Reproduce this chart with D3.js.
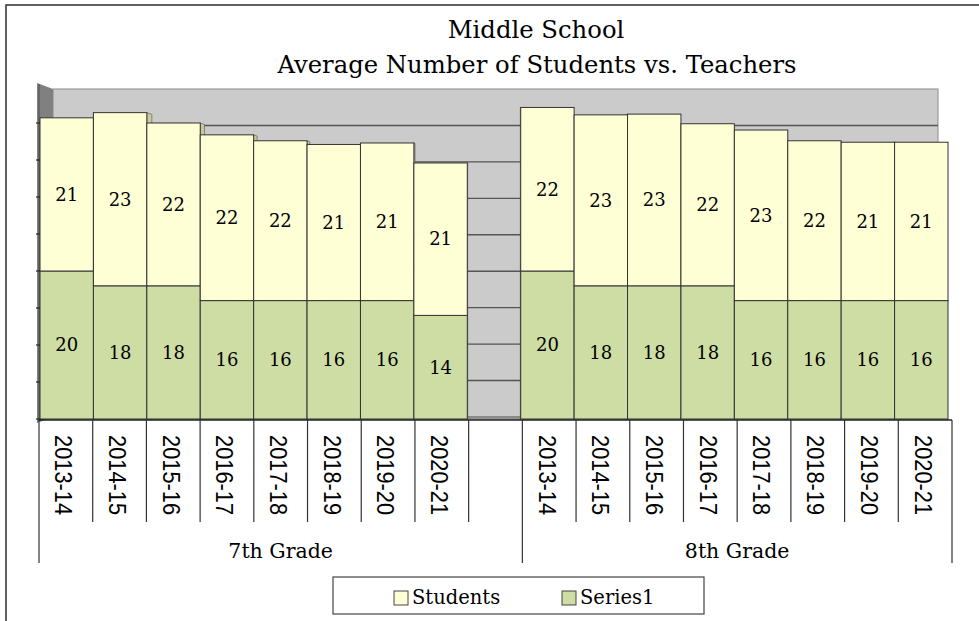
<!DOCTYPE html>
<html>
<head>
<meta charset="utf-8">
<script src="https://cdn.jsdelivr.net/npm/d3@7"></script>
<style>
    html, body { margin: 0; padding: 0; background: #fff; }
    svg { display: block; }
    .title { font-family: "DejaVu Serif", serif; font-size: 24.3px; fill: #000; }
    .val { font-family: "DejaVu Serif", serif; font-size: 18px; fill: #000; }
    .year { font-family: "Liberation Sans", Arial, sans-serif; font-size: 24px; fill: #000; }
    .grade { font-family: "DejaVu Serif", serif; font-size: 20.5px; fill: #000; }
    .legend-text { font-family: "DejaVu Serif", serif; font-size: 19.5px; fill: #000; }
</style>
</head>
<body>
<svg id="chart" width="979" height="621"></svg>
<script>
(function () {
    "use strict";

    // ---- data ----
    const grades = ["7th Grade", "8th Grade"];
    const years = ["2013-14", "2014-15", "2015-16", "2016-17", "2017-18", "2018-19", "2019-20", "2020-21"];
    const students7 = [20.7, 23.4, 22.0, 22.4, 21.6, 21.1, 21.3, 20.6];
    const series1_7 = [20, 18, 18, 16, 16, 16, 16, 14];
    const students8 = [22.1, 23.1, 23.2, 21.9, 23.05, 21.6, 21.4, 21.4];
    const series1_8 = [20, 18, 18, 18, 16, 16, 16, 16];
    const yTicks = [0, 5, 10, 15, 20, 25, 30, 35, 40];
    const yMax = 45;
    const seriesNames = ["Students", "Series1"];

    const COLORS = { Students: "#ffffd6", Series1: "#cddda4" };
    const SIDE = { Students: "#c9c99a", Series1: "#a7b67f" };

    // one slot per year, plus an empty slot between the two grades
    const GAP = "gap";
    const keys = [];
    const rows = [];
    grades.forEach(function (g, gi) {
        const stu = gi === 0 ? students7 : students8;
        const s1 = gi === 0 ? series1_7 : series1_8;
        years.forEach(function (yr, i) {
            const k = g + "|" + yr;
            keys.push(k);
            rows.push({ key: k, grade: g, gi: gi, year: yr, Series1: s1[i], Students: stu[i] });
        });
        if (gi === 0) keys.push(GAP);
    });

    const svg = d3.select("#chart");

    // outer chart frame (right & bottom run off the page)
    svg.append("rect")
        .attr("x", 6).attr("y", 5)
        .attr("width", 1100).attr("height", 800)
        .attr("fill", "#fff")
        .attr("stroke", "#3a3a3a").attr("stroke-width", 1.6);

    // title
    svg.append("text").attr("class", "title")
        .attr("x", 536).attr("y", 38).attr("text-anchor", "middle")
        .text("Middle School");
    svg.append("text").attr("class", "title")
        .attr("x", 537).attr("y", 73).attr("text-anchor", "middle")
        .text("Average Number of Students vs. Teachers");

    // scales: front plane for bars, back plane for the wall
    const x = d3.scaleBand().domain(keys).range([40, 948]).padding(0);
    const xAxis = d3.scaleBand().domain(keys).range([39, 952]).padding(0);
    const y = d3.scaleLinear().domain([0, yMax]).range([419, 86]);
    const yBack = d3.scaleLinear().domain([0, yMax]).range([417, 89]);
    const backX0 = 53, backX1 = 938;
    const centerX = 494;

    // back wall
    svg.append("rect")
        .attr("x", backX0).attr("y", yBack(yMax))
        .attr("width", backX1 - backX0).attr("height", yBack(0) - yBack(yMax))
        .attr("fill", "#cbcbcb")
        .attr("stroke", "#8c8c8c").attr("stroke-width", 1);

    // wall gridlines
    svg.selectAll(".grid")
        .data(yTicks.filter((d) => d > 0))
        .enter()
        .append("line")
        .attr("x1", backX0).attr("x2", backX1)
        .attr("y1", (d) => yBack(d)).attr("y2", (d) => yBack(d))
        .attr("stroke", "#555").attr("stroke-width", 1.4);

    // floor
    svg.append("path")
        .attr("d", `M40,${y(0)} L${backX0},${yBack(0)} L${backX1},${yBack(0)} L948,${y(0)} Z`)
        .attr("fill", "#b5b5b5").attr("stroke", "#555").attr("stroke-width", 0.8);

    // left side wall
    svg.append("path")
        .attr("d", `M37,83 L${backX0},${yBack(yMax)} L${backX0},${yBack(0)} L37,423 Z`)
        .attr("fill", "#808080");
    svg.append("line")
        .attr("x1", 39).attr("x2", 39).attr("y1", 84).attr("y2", 421)
        .attr("stroke", "#666").attr("stroke-width", 2);

    // value-axis ticks (labels hidden as in the original)
    svg.selectAll(".ytick")
        .data(yTicks)
        .enter()
        .append("line")
        .attr("x1", 36).attr("x2", 42)
        .attr("y1", (d) => y(d)).attr("y2", (d) => y(d))
        .attr("stroke", "#222").attr("stroke-width", 1.2);

    // stacked segments
    const stack = d3.stack().keys(["Series1", "Students"]);
    const layers = stack(rows);

    // side faces, receding toward the middle of the plot
    function sidePath(d) {
        const x0 = x(d.data.key);
        const x1 = x0 + x.bandwidth();
        const yt = y(d[1]), yb = y(d[0]);
        const xe = d.data.gi === 0 ? x1 : x0;
        const dep = 0.0145 * (centerX - xe);
        const dy = Math.abs(dep) * 0.35;
        return `M${xe},${yt} L${xe + dep},${yt + dy} L${xe + dep},${yb} L${xe},${yb} Z`;
    }
    layers.forEach(function (layer) {
        const name = layer.key;
        svg.selectAll(".side-" + name)
            .data(layer)
            .enter()
            .append("path")
            .attr("d", sidePath)
            .attr("fill", SIDE[name])
            .attr("stroke", "#555").attr("stroke-width", 0.6);
    });

    // front faces
    layers.forEach(function (layer) {
        const name = layer.key;
        svg.selectAll(".bar-" + name)
            .data(layer)
            .enter()
            .append("rect")
            .attr("x", (d) => x(d.data.key))
            .attr("y", (d) => y(d[1]))
            .attr("width", x.bandwidth())
            .attr("height", (d) => y(d[0]) - y(d[1]))
            .attr("fill", COLORS[name])
            .attr("stroke", "#333").attr("stroke-width", 1);
    });

    // data labels
    layers.forEach(function (layer) {
        svg.selectAll(".lbl-" + layer.key)
            .data(layer)
            .enter()
            .append("text")
            .attr("class", "val")
            .attr("x", (d) => x(d.data.key) + x.bandwidth() / 2)
            .attr("y", (d) => (y(d[0]) + y(d[1])) / 2)
            .attr("dy", "0.35em")
            .attr("text-anchor", "middle")
            .text((d) => Math.round(d[1] - d[0]));
    });

    // category axis: line, year tier, grade tier
    const axisY = 420;
    svg.append("line")
        .attr("x1", 39).attr("x2", 952)
        .attr("y1", axisY).attr("y2", axisY)
        .attr("stroke", "#222").attr("stroke-width", 1.4);

    // year tier separators
    const yearBounds = [];
    rows.forEach(function (r) {
        const idx = years.indexOf(r.year);
        if (idx > 0) yearBounds.push(xAxis(r.key));
        if (idx === years.length - 1 && r.gi === 0) yearBounds.push(xAxis(r.key) + xAxis.bandwidth());
    });
    svg.selectAll(".ysep")
        .data(yearBounds)
        .enter()
        .append("line")
        .attr("x1", (d) => d).attr("x2", (d) => d)
        .attr("y1", axisY).attr("y2", 522)
        .attr("stroke", "#333").attr("stroke-width", 1.2);

    // grade tier separators
    const gradeBounds = [xAxis(rows[0].key), xAxis(grades[1] + "|" + years[0]), 952];
    svg.selectAll(".gsep")
        .data(gradeBounds)
        .enter()
        .append("line")
        .attr("x1", (d) => d).attr("x2", (d) => d)
        .attr("y1", axisY).attr("y2", 563)
        .attr("stroke", "#333").attr("stroke-width", 1.2);

    // rotated year labels
    svg.selectAll(".year")
        .data(rows)
        .enter()
        .append("text")
        .attr("class", "year")
        .attr("transform", (d) => `translate(${xAxis(d.key) + xAxis.bandwidth() / 2 - 2},435) rotate(90) scale(0.91,1)`)
        .attr("dy", "0.36em")
        .text((d) => d.year);

    // grade labels
    svg.selectAll(".grade")
        .data(grades)
        .enter()
        .append("text")
        .attr("class", "grade")
        .attr("x", (d, i) => (gradeBounds[i] + gradeBounds[i + 1]) / 2)
        .attr("y", 558)
        .attr("text-anchor", "middle")
        .text((d) => d);

    // legend
    const legend = svg.append("g");
    legend.append("rect")
        .attr("x", 333).attr("y", 577)
        .attr("width", 371).attr("height", 37)
        .attr("fill", "#fff").attr("stroke", "#444").attr("stroke-width", 1.2);
    const legendX = [394, 562];
    seriesNames.forEach(function (name, i) {
        legend.append("rect")
            .attr("x", legendX[i]).attr("y", 591)
            .attr("width", 14).attr("height", 14)
            .attr("fill", COLORS[name]).attr("stroke", "#444").attr("stroke-width", 1);
        legend.append("text")
            .attr("class", "legend-text")
            .attr("x", legendX[i] + 18).attr("y", 604)
            .text(name);
    });
})();
</script>
</body>
</html>
